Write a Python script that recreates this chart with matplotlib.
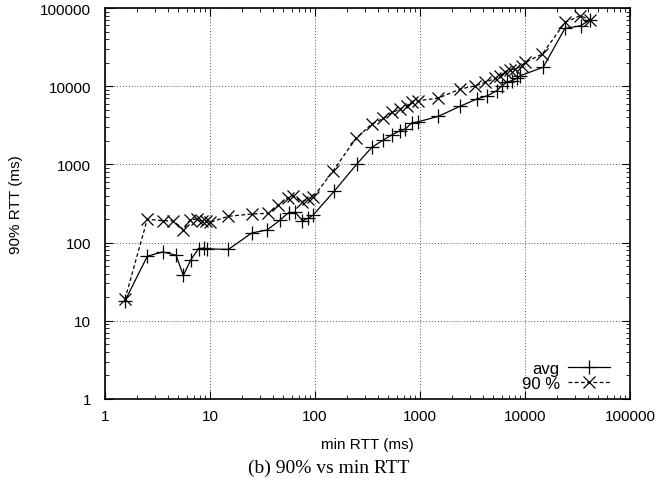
import numpy as np
import matplotlib
matplotlib.use('Agg')
import matplotlib.pyplot as plt
from matplotlib.ticker import LogLocator, FuncFormatter, NullFormatter

# values (ms)
x_avg = [1.55, 2.53, 3.54, 4.75, 5.57, 6.55, 7.8, 8.8, 9.4, 15, 25, 35, 46, 56,
         65, 76, 86, 96, 152, 250, 347, 447, 537, 646, 724, 834, 964, 1494,
         2400, 3470, 4380, 5380, 6000, 6700, 7470, 8340, 8960, 14900, 24000,
         33900, 41600]
avg = [18, 67, 76, 69, 38, 60, 84, 85, 83, 82, 133, 145, 192, 242, 244, 190,
       205, 225, 453, 1010, 1650, 2050, 2380, 2700, 2840, 3390, 3520, 4120,
       5530, 6860, 7570, 8770, 10100, 11200, 11800, 12600, 13600, 17500,
       55000, 59400, 71000]

x_p90 = [1.55, 2.53, 3.54, 4.47, 5.57, 6.45, 7.5, 8.3, 9.16, 10, 14.9, 24.9,
         35.9, 44.7, 55, 62, 74.7, 86, 96, 149, 246, 347, 447, 545, 646, 747,
         834, 964, 1494, 2404, 3340, 4160, 5180, 5760, 6450, 7200, 8030, 9300,
         10000, 14620, 24040, 33400, 41600]
p90 = [19, 200, 190, 190, 146, 196, 200, 190, 190, 182, 217, 232, 237, 303,
       375, 394, 334, 361, 379, 831, 2160, 3290, 3880, 4640, 5110, 5630, 6340,
       6530, 7060, 9200, 10100, 11200, 12600, 13600, 15100, 16300, 16600,
       18300, 20200, 25800, 65600, 79800, 71000]

fig = plt.figure(figsize=(6.71, 4.85), dpi=100)
ax = fig.add_axes([0.1565, 0.1753, 0.7824, 0.806])

ax.plot(x_avg, avg, color='black', lw=0.9, marker='+', ms=10, mew=0.9,
        label='avg')
ax.plot(x_p90, p90, color='black', lw=0.9, ls=(0, (3, 2)), marker='x',
        ms=9, mew=0.9, label='90 %')

ax.set_xscale('log')
ax.set_yscale('log')
ax.set_xlim(1, 100000)
ax.set_ylim(1, 100000)

fmt = FuncFormatter(lambda v, p: '%d' % v)
for a in (ax.xaxis, ax.yaxis):
    a.set_major_locator(LogLocator(base=10, numticks=10))
    a.set_minor_locator(LogLocator(base=10, subs=np.arange(2, 10), numticks=10))
    a.set_major_formatter(fmt)
    a.set_minor_formatter(NullFormatter())

ax.tick_params(which='both', direction='in', top=True, right=True,
               labelsize=11)
ax.tick_params(axis='x', pad=7)
ax.tick_params(axis='y', pad=10)
ax.tick_params(which='major', length=6, width=0.8)
ax.tick_params(which='minor', length=3, width=0.6)
ax.grid(True, which='major', color='#555555', ls=(0, (1, 2)), lw=0.7)
for s in ax.spines.values():
    s.set_linewidth(1.2)

ax.set_xlabel('min RTT (ms)', fontsize=11, family='Liberation Sans', labelpad=10)
ax.set_ylabel('90% RTT (ms)', fontsize=11, family='Liberation Sans', labelpad=12)
for lab in ax.get_xticklabels() + ax.get_yticklabels():
    lab.set_family('Liberation Sans')

ax.legend(loc='lower right', bbox_to_anchor=(0.99, -0.018), frameon=False,
          markerfirst=False, handlelength=2.5, handletextpad=0.5,
          labelspacing=0.0, prop={'family': 'Liberation Sans', 'size': 12})

fig.text(0.49, 0.035, '(b) 90% vs min RTT', ha='center', va='center',
         fontsize=14, family='Liberation Serif')

fig.savefig('out.png', dpi=100)
